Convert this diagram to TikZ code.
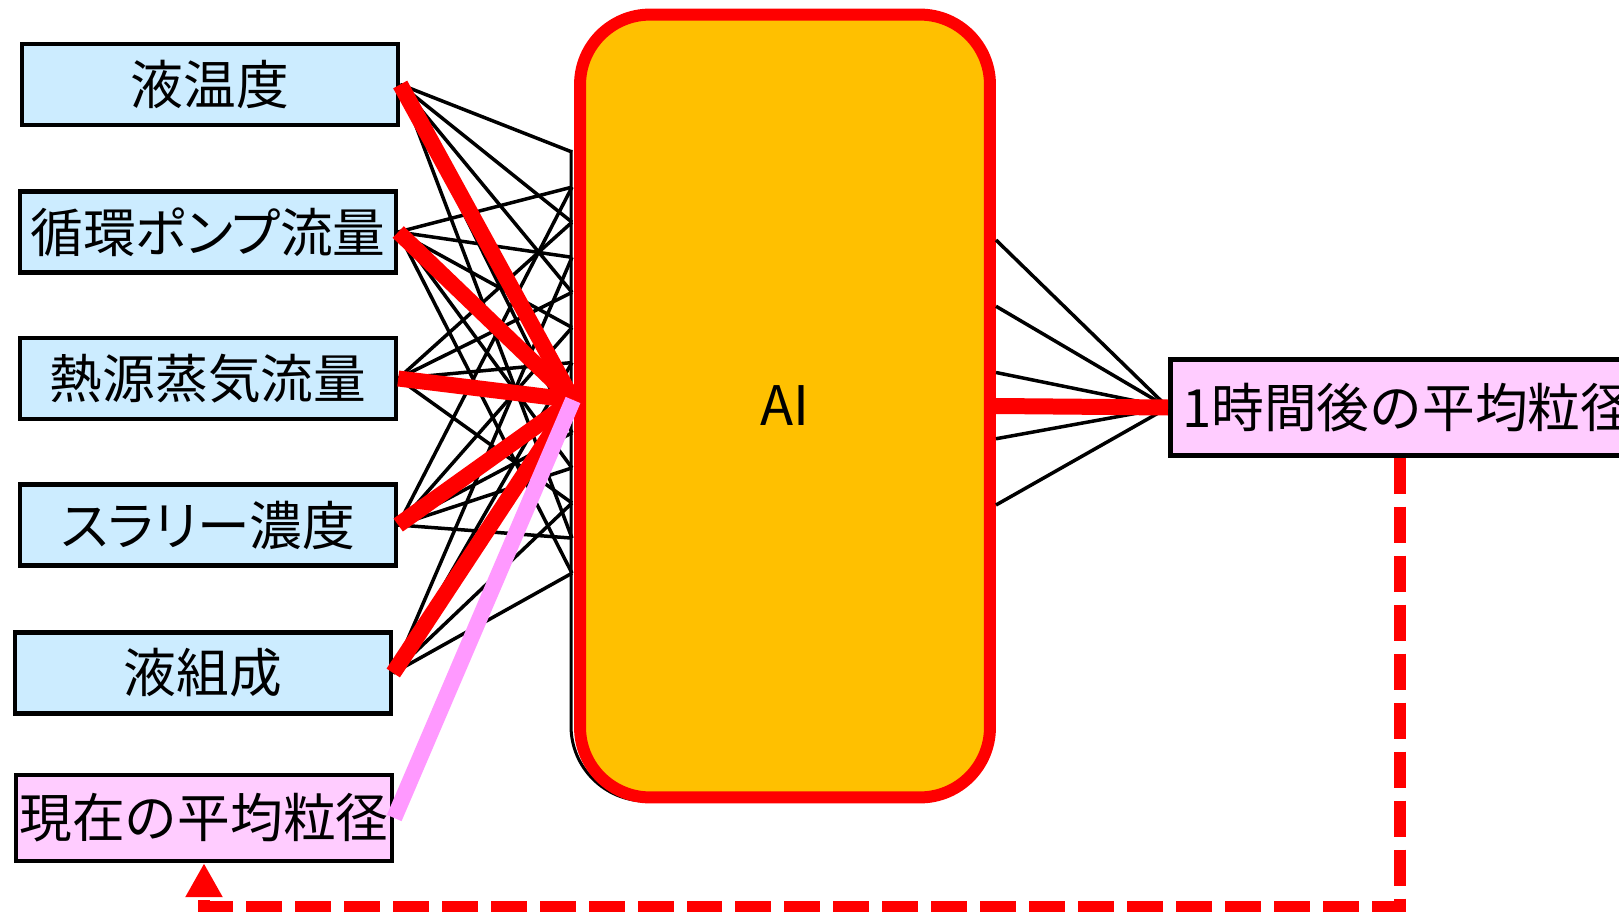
\documentclass[tikz,border=0pt]{standalone}
\usepackage{fontspec}
\setmainfont{Noto Sans CJK JP}
\newfontfamily\paltfont{Noto Sans CJK JP}[RawFeature=+palt]
\usetikzlibrary{arrows.meta}

\definecolor{inblue}{HTML}{CCECFF}
\definecolor{outpink}{HTML}{FFCCFF}
\definecolor{aiorange}{HTML}{FFC000}
\definecolor{linkpink}{HTML}{FF99FF}

\tikzset{
    inbox/.style={draw, line width=0.09cm, fill=inblue, minimum width=7.52cm,
        minimum height=1.62cm, inner sep=0pt, font=\fontsize{30}{36}\selectfont},
    outbox/.style={inbox, fill=outpink},
    aibox/.style={draw=red, line width=0.24cm, fill=aiorange, rounded corners=1.4cm,
        minimum width=8.2cm, minimum height=15.66cm, font=\fontsize{31}{36}\selectfont},
    link/.style={line width=0.07cm},
    hot/.style={draw=red, line width=0.32cm},
    feedback/.style={draw=red, line width=0.24cm, dash pattern=on 0.72cm off 0.26cm,
        line join=miter, -{Triangle[width=0.7cm,length=0.68cm]}, red},
}

\begin{document}
\begin{tikzpicture}[x=0.02cm, y=-0.02cm]
    \useasboundingbox (0,0) rectangle (1619,912);
    \clip (0,0) rectangle (1619,912);

    % hidden layer block
    \draw[line width=0.06cm, rounded corners=1.5cm] (571,150) -- (571,801) -- (720,801);
    \node[aibox] (ai) at (785,406) {AI};

    % inputs
    \foreach \name/\x/\y/\txt in {temp/210/84.5/液温度, pump/208/232/{\paltfont 循環ポンプ流量},
            steam/208/378.5/熱源蒸気流量, slurry/208/525/{\paltfont スラリー濃度}, comp/203/673/液組成}
        \node[inbox] (\name) at (\x,\y) {\txt};
    \node[outbox, minimum height=1.72cm] (now) at (204,818) {現在の平均粒径};
    \node[outbox, anchor=west, minimum height=1.92cm, inner xsep=0.24cm] (next) at (1168,407.5) {1時間後の平均粒径};

    \foreach \k in {1,...,13}
        \coordinate (h\k) at (572,{152+35.1*(\k-1)});
    \foreach \src/\dst in {temp/1, temp/3, temp/5, temp/9, temp/12,
            pump/2, pump/4, pump/6, pump/10, pump/13,
            steam/3, steam/5, steam/7, steam/8, steam/11,
            slurry/2, slurry/6, slurry/9, slurry/10, slurry/12,
            comp/4, comp/7, comp/8, comp/11, comp/13}
        \draw[link] (\src.east) -- (h\dst);

    \coordinate (hub) at (573,400);
    \foreach \src in {temp,pump,steam,slurry,comp}
        \draw[hot] (\src.east) -- (hub);
    \draw[hot, draw=linkpink] (now.east) -- (hub);

    % output side
    \foreach \k in {1,...,5} {
        \coordinate (o\k) at (996,{240+66.25*(\k-1)});
        \draw[link] (o\k) -- (next.west);
    }
    \draw[hot] (ai.east) -- (next.west);

    \coordinate (fb) at (1400,907);
    \draw[feedback] (next.south -| fb) -- (fb) -| (now.south);
\end{tikzpicture}
\end{document}
